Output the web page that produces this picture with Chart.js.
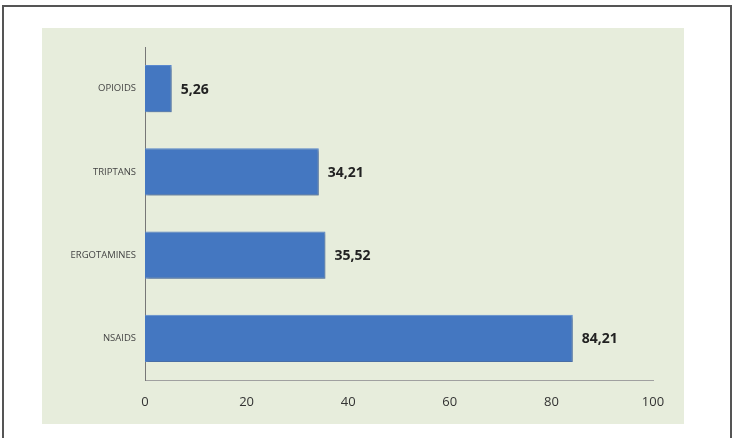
<!DOCTYPE html>
<html>
<head>
<meta charset="utf-8">
<script src="https://cdn.jsdelivr.net/npm/chart.js@4"></script>
<style>
  body { margin: 0; background: #fff; width: 733px; height: 438px; overflow: hidden; position: relative; }
  #frame { position: absolute; left: 2px; top: 5px; width: 726px; height: 440px; border: 2px solid #555; border-bottom: none; }
  #panel { position: absolute; left: 42px; top: 28px; width: 642px; height: 396px; background: #e7eddc; }
  #c { position: absolute; left: 0; top: 0; }
</style>
</head>
<body>
<div id="frame"></div>
<div id="panel"><canvas id="c" width="642" height="396"></canvas></div>
<script>
// drug classes, top to bottom
const categories = ['OPIOIDS', 'TRIPTANS', 'ERGOTAMINES', 'NSAIDS'];
const values = [5.26, 34.21, 35.52, 84.21];
const xTicks = [0, 20, 40, 60, 80, 100];

const barShadow = {
  id: 'barShadow',
  beforeDatasetsDraw(chart) {
    const ctx = chart.ctx;
    ctx.save();
    ctx.shadowColor = 'rgba(0,0,0,0.28)';
    ctx.shadowBlur = 3;
    ctx.shadowOffsetX = 2;
    ctx.shadowOffsetY = 2;
  },
  afterDatasetsDraw(chart) {
    chart.ctx.restore();
  },
};

const valueLabels = {
  id: 'valueLabels',
  afterDatasetsDraw(chart) {
    const ctx = chart.ctx;
    ctx.save();
    ctx.font = 'bold 14px "Open Sans", "DejaVu Sans", sans-serif';
    ctx.fillStyle = '#222';
    ctx.textBaseline = 'middle';
    chart.getDatasetMeta(0).data.forEach((bar, i) => {
      ctx.fillText(values[i].toFixed(2).replace('.', ','), bar.x + 9, bar.y + 1);
    });
    ctx.restore();
  },
};

new Chart(document.getElementById('c').getContext('2d'), {
  type: 'bar',
  data: {
    labels: categories,
    datasets: [{
      data: values,
      backgroundColor: '#4477c1',
      borderColor: '#5b8ad0',
      borderWidth: 1,
      barPercentage: 0.57,
      categoryPercentage: 1,
    }],
  },
  options: {
    indexAxis: 'y',
    responsive: false,
    animation: false,
    layout: { padding: { top: 19, right: 31, left: 0, bottom: 0 } },
    plugins: { legend: { display: false }, tooltip: { enabled: false } },
    scales: {
      x: {
        min: 0, max: 100,
        afterBuildTicks: s => { s.ticks = xTicks.map(v => ({ value: v })); },
        afterFit: s => { s.height = 44; },
        grid: { display: false, drawTicks: false },
        border: { display: true, color: '#a0a0a0', width: 1 },
        ticks: { color: '#333', padding: 14, font: { size: 13, family: '"Open Sans", sans-serif' } },
      },
      y: {
        afterFit: s => { s.width = 103; },
        grid: { display: false, drawTicks: false },
        border: { display: true, color: '#777', width: 1 },
        ticks: { color: '#444', padding: 9, font: { size: 9.5, family: '"Open Sans", sans-serif' } },
      },
    },
  },
  plugins: [barShadow, valueLabels],
});
</script>
</body>
</html>
